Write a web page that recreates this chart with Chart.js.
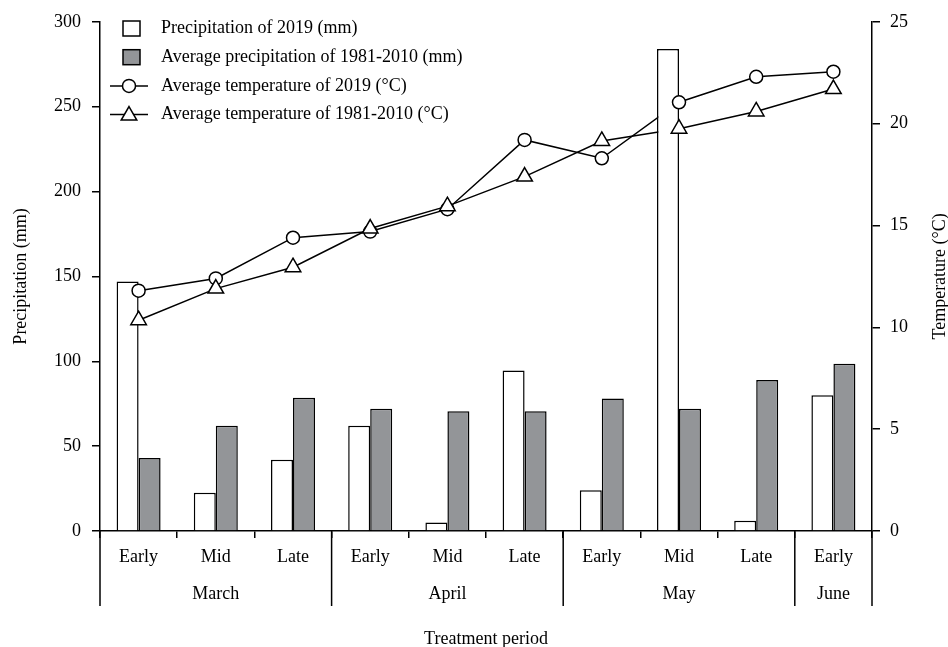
<!DOCTYPE html>
<html>
<head>
<meta charset="utf-8">
<script src="https://cdn.jsdelivr.net/npm/chart.js@4.4.1/dist/chart.umd.min.js"></script>
<style>
  html, body { margin: 0; padding: 0; background: #fff; }
  #wrap { width: 948px; height: 647px; }
</style>
</head>
<body>
<div id="wrap"><canvas id="c" width="948" height="647"></canvas></div>
<script>
// ---- data ----
const periods = ['Early', 'Mid', 'Late', 'Early', 'Mid', 'Late', 'Early', 'Mid', 'Late', 'Early'];
const months = ['March', 'April', 'May', 'June'];
const monthSpans = [3, 3, 3, 1];
const precip2019 = [147, 22.5, 42, 62, 5, 94.5, 24, 284, 6, 80];
const precipAvg = [43, 62, 78.5, 72, 70.5, 70.5, 78, 72, 89, 98.5];
const temp2019 = [11.8, 12.4, 14.4, 14.7, 15.8, 19.2, 18.3, 21.05, 22.3, 22.55];
const tempAvg = [10.35, 11.9, 12.95, 14.85, 15.95, 17.4, 19.15, 19.75, 20.6, 21.7];
const precipTicks = [0, 50, 100, 150, 200, 250, 300];
const tempTicks = [0, 5, 10, 15, 20, 25];
const legendLabels = [
  'Precipitation of 2019 (mm)',
  'Average precipitation of 1981-2010 (mm)',
  'Average temperature of 2019 (°C)',
  'Average temperature of 1981-2010 (°C)'
];

const FONT = 'Liberation Serif';
const FS = 18;
const GRAY = '#939598';

const decor = {
  id: 'decor',
  afterDraw(chart) {
    const ctx = chart.ctx;
    const xs = chart.scales.x;
    const area = chart.chartArea;
    const half = (xs.getPixelForValue(1) - xs.getPixelForValue(0)) / 2;
    ctx.save();
    ctx.strokeStyle = '#000';
    ctx.lineWidth = 1.5;
    ctx.fillStyle = '#000';
    ctx.font = FS + 'px "' + FONT + '"';
    ctx.textAlign = 'center';
    ctx.textBaseline = 'middle';
    // month group separators + labels
    let start = 0;
    const edges = [xs.getPixelForValue(0) - half];
    monthSpans.forEach((span, i) => {
      const l = xs.getPixelForValue(start) - half;
      const r = xs.getPixelForValue(start + span - 1) + half;
      edges.push(r);
      ctx.fillText(months[i], (l + r) / 2, area.bottom + 63);
      start += span;
    });
    edges.forEach(e => {
      ctx.beginPath();
      ctx.moveTo(e, area.bottom);
      ctx.lineTo(e, area.bottom + 75);
      ctx.stroke();
    });
    // right axis title (reads bottom to top)
    ctx.save();
    ctx.translate(940, (area.top + area.bottom) / 2);
    ctx.rotate(-Math.PI / 2);
    ctx.fillText('Temperature (°C)', 0, 0);
    ctx.restore();
    // legend
    const lx = 161, rowY = [28.5, 57.2, 85.9, 114.6];
    ctx.textAlign = 'left';
    legendLabels.forEach((t, i) => ctx.fillText(t, lx, rowY[i]));
    // boxes
    ctx.lineWidth = 1.5;
    [['#fff', 0], [GRAY, 1]].forEach(([col, i]) => {
      ctx.fillStyle = col;
      ctx.fillRect(123, rowY[i] - 7.5, 17, 15);
      ctx.strokeRect(123, rowY[i] - 7.5, 17, 15);
    });
    // line samples
    [2, 3].forEach(i => {
      ctx.beginPath();
      ctx.moveTo(110, rowY[i]);
      ctx.lineTo(148, rowY[i]);
      ctx.stroke();
    });
    ctx.fillStyle = '#fff';
    ctx.beginPath();
    ctx.arc(129, rowY[2], 6.5, 0, Math.PI * 2);
    ctx.fill(); ctx.stroke();
    const r = 9, cy = rowY[3] + 1;
    ctx.beginPath();
    ctx.moveTo(129, cy - r);
    ctx.lineTo(129 + r * Math.sin(2 * Math.PI / 3), cy + r / 2);
    ctx.lineTo(129 - r * Math.sin(2 * Math.PI / 3), cy + r / 2);
    ctx.closePath();
    ctx.fill(); ctx.stroke();
    ctx.restore();
  }
};

const tickFont = { family: FONT, size: FS };

new Chart(document.getElementById('c'), {
  data: {
    labels: periods,
    datasets: [
      { type: 'line', data: temp2019, yAxisID: 'y1', borderColor: '#000', borderWidth: 1.5,
        pointRadius: 0, order: 5 },
      { type: 'line', data: tempAvg, yAxisID: 'y1', borderColor: '#000', borderWidth: 1.5,
        pointRadius: 0, order: 4 },
      { type: 'bar', data: precip2019, yAxisID: 'y', backgroundColor: '#fff', borderColor: '#000',
        borderWidth: 1.5, order: 3, barPercentage: 1, categoryPercentage: 0.57 },
      { type: 'bar', data: precipAvg, yAxisID: 'y', backgroundColor: GRAY, borderColor: '#000',
        borderWidth: 1.5, order: 3, barPercentage: 1, categoryPercentage: 0.57 },
      { type: 'line', data: temp2019, yAxisID: 'y1', showLine: false, pointStyle: 'circle',
        pointRadius: 6.5, pointBackgroundColor: '#fff', pointBorderColor: '#000', pointBorderWidth: 1.5, order: 1 },
      { type: 'line', data: tempAvg, yAxisID: 'y1', showLine: false, pointStyle: 'triangle',
        pointRadius: 9, pointBackgroundColor: '#fff', pointBorderColor: '#000', pointBorderWidth: 1.5, order: 0 }
    ]
  },
  options: {
    responsive: false,
    animation: false,
    events: [],
    layout: { padding: { top: 20.7, left: 0, right: 0, bottom: 0 } },
    plugins: { legend: { display: false }, tooltip: { enabled: false } },
    scales: {
      x: {
        type: 'category',
        offset: true,
        grid: { offset: true, drawOnChartArea: false, drawTicks: true, tickLength: 7, color: '#000', lineWidth: 1.5 },
        border: { display: true, color: '#000', width: 1.5 },
        ticks: { color: '#000', font: tickFont, padding: 8, maxRotation: 0, autoSkip: false },
        title: { display: true, text: 'Treatment period', color: '#000',
          font: { family: FONT, size: FS, lineHeight: 0.9 }, padding: 0 },
        afterFit(s) { s.height = 116; }
      },
      y: {
        position: 'left',
        min: 0, max: 300,
        afterBuildTicks(s) { s.ticks = precipTicks.map(v => ({ value: v })); },
        grid: { drawOnChartArea: false, drawTicks: true, tickLength: 8, color: '#000', lineWidth: 1.5 },
        border: { display: true, color: '#000', width: 1.5 },
        ticks: { color: '#000', font: tickFont, padding: 11 },
        title: { display: true, text: 'Precipitation (mm)', color: '#000',
          font: { family: FONT, size: FS }, padding: { top: 10, bottom: 0 } },
        afterFit(s) { s.width = 100; }
      },
      y1: {
        position: 'right',
        min: 0, max: 25,
        afterBuildTicks(s) { s.ticks = tempTicks.map(v => ({ value: v })); },
        grid: { drawOnChartArea: false, drawTicks: true, tickLength: 8, color: '#000', lineWidth: 1.5 },
        border: { display: true, color: '#000', width: 1.5 },
        ticks: { color: '#000', font: tickFont, padding: 10 },
        afterFit(s) { s.width = 76; }
      }
    }
  },
  plugins: [decor]
});
</script>
</body>
</html>
